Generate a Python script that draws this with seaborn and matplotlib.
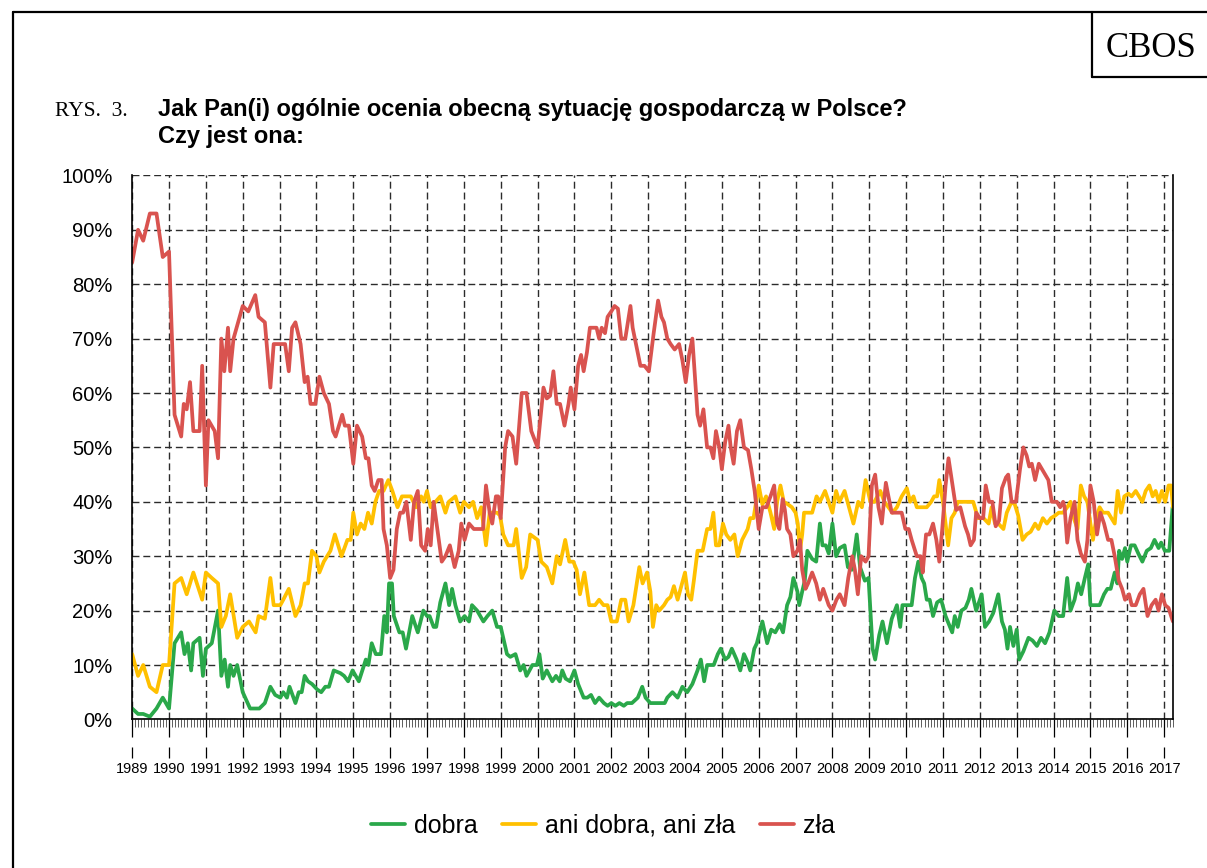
import numpy as np
import pandas as pd
import matplotlib
matplotlib.use('Agg')
import matplotlib.pyplot as plt
from matplotlib.lines import Line2D
from matplotlib.ticker import NullLocator
import seaborn as sns

# dobra - odczyt z wykresu (rok jako ułamek, odsetek)
dobra_rok = [
    1989.00, 1989.16, 1989.30, 1989.48, 1989.66, 1989.83, 1990.00, 1990.15, 1990.33, 1990.42,
    1990.51, 1990.60, 1990.66, 1990.83, 1990.92, 1991.00, 1991.16, 1991.33, 1991.42, 1991.51,
    1991.60, 1991.66, 1991.75, 1991.85, 1992.00, 1992.20, 1992.45, 1992.60, 1992.75, 1992.88,
    1993.02, 1993.10, 1993.20, 1993.27, 1993.43, 1993.52, 1993.60, 1993.68, 1993.77, 1993.88,
    1994.02, 1994.13, 1994.24, 1994.34, 1994.47, 1994.65, 1994.75, 1994.86, 1994.98, 1995.15,
    1995.34, 1995.41, 1995.50, 1995.61, 1995.75, 1995.84, 1995.91, 1995.97, 1996.05, 1996.10,
    1996.25, 1996.34, 1996.43, 1996.60, 1996.75, 1996.90, 1997.00, 1997.07, 1997.18, 1997.25,
    1997.36, 1997.50, 1997.60, 1997.68, 1997.77, 1997.90, 1998.02, 1998.14, 1998.22, 1998.36,
    1998.53, 1998.64, 1998.77, 1998.90, 1999.00, 1999.17, 1999.26, 1999.40, 1999.53, 1999.62,
    1999.70, 1999.86, 1999.98, 2000.05, 2000.14, 2000.25, 2000.40, 2000.50, 2000.60, 2000.67,
    2000.76, 2000.88, 2001.00, 2001.10, 2001.25, 2001.35, 2001.45, 2001.56, 2001.67, 2001.80,
    2001.90, 2002.00, 2002.11, 2002.22, 2002.34, 2002.43, 2002.56, 2002.72, 2002.84, 2002.93,
    2003.06, 2003.24, 2003.45, 2003.52, 2003.66, 2003.80, 2003.93, 2004.06, 2004.20, 2004.34,
    2004.43, 2004.52, 2004.60, 2004.78, 2004.89, 2004.97, 2005.09, 2005.18, 2005.27, 2005.40,
    2005.50, 2005.60, 2005.70, 2005.77, 2005.88, 2005.95, 2006.10, 2006.23, 2006.34, 2006.45,
    2006.57, 2006.66, 2006.77, 2006.86, 2006.94, 2007.05, 2007.10, 2007.18, 2007.25, 2007.32,
    2007.45, 2007.56, 2007.66, 2007.73, 2007.82, 2007.90, 2008.00, 2008.10, 2008.20, 2008.33,
    2008.42, 2008.53, 2008.66, 2008.75, 2008.88, 2008.98, 2009.09, 2009.16, 2009.27, 2009.36,
    2009.48, 2009.61, 2009.75, 2009.84, 2009.90, 2010.02, 2010.15, 2010.24, 2010.33, 2010.42,
    2010.49, 2010.56, 2010.64, 2010.73, 2010.84, 2010.95, 2011.07, 2011.16, 2011.25, 2011.32,
    2011.40, 2011.50, 2011.61, 2011.70, 2011.77, 2011.90, 2012.05, 2012.14, 2012.25, 2012.36,
    2012.50, 2012.60, 2012.68, 2012.75, 2012.82, 2012.91, 2013.00, 2013.07, 2013.18, 2013.32,
    2013.43, 2013.55, 2013.66, 2013.77, 2013.89, 2014.02, 2014.14, 2014.26, 2014.37, 2014.46,
    2014.57, 2014.66, 2014.75, 2014.85, 2014.94, 2015.00, 2015.16, 2015.25, 2015.37, 2015.46,
    2015.55, 2015.66, 2015.73, 2015.78, 2015.86, 2015.94, 2016.00, 2016.10, 2016.20, 2016.30,
    2016.41, 2016.53, 2016.64, 2016.74, 2016.85, 2016.92, 2017.02, 2017.14, 2017.23,
]
dobra_val = [
    2, 1, 1, 0.5, 2, 4, 2, 14, 16, 12,
    14, 9, 14, 15, 8, 13, 14, 20, 8, 11,
    6, 10, 8, 10, 5, 2, 2, 3, 6, 4.5,
    4, 5, 4, 6, 3, 5, 5, 8, 7, 6.5,
    5.5, 5, 6, 6, 9, 8.5, 8, 7, 9, 7,
    11, 10, 14, 12, 12, 19, 16, 25, 25, 19,
    16, 16, 13, 19, 16, 20, 19, 19, 17, 17,
    21.5, 25, 21, 24, 21, 18, 19, 18, 21, 20,
    18, 19, 20, 17, 17, 12, 11.5, 12, 9, 10,
    8, 10, 10, 12, 7.5, 9, 7, 8, 7, 9,
    7.5, 7, 9, 6.5, 4, 4, 4.5, 3, 4, 3,
    2.5, 3, 2.5, 3, 2.5, 3, 3, 4, 6, 4,
    3, 3, 3, 4, 5, 4, 6, 5, 6.5, 9,
    11, 7, 10, 10, 12, 13, 11, 11.5, 13, 11,
    9, 12, 10.5, 9, 13, 14, 18, 14, 16.5, 16,
    17.5, 16, 21, 22.5, 26, 23.5, 21, 23.5, 25.5, 31,
    29.5, 29, 36, 32, 32, 30.5, 36, 30, 31.5, 32,
    28, 27.5, 34, 28, 25.5, 26, 13, 11, 15.5, 18,
    14, 18.5, 21, 17, 21, 21, 21, 26, 29, 26,
    25, 22, 22, 19, 21.5, 22, 19, 17.5, 16, 19,
    17, 20, 20.5, 22, 24, 20, 23, 17, 18, 19.5,
    23, 18, 16.5, 13, 17, 13.5, 16.5, 11, 12.5, 15,
    14.5, 13.5, 15, 14, 16, 20, 19, 19, 26, 20,
    22, 25, 23, 26, 28.5, 21, 21, 21, 23, 24,
    24, 27, 25, 31, 29.5, 31.5, 29, 32, 32, 30.5,
    29, 31, 31.5, 33, 31.5, 32.5, 31, 31, 39,
]

# ani dobra, ani zła
ani_rok = [
    1989.00, 1989.16, 1989.30, 1989.48, 1989.66, 1989.83, 1990.00, 1990.15, 1990.33, 1990.48,
    1990.66, 1990.90, 1991.00, 1991.16, 1991.33, 1991.42, 1991.54, 1991.66, 1991.85, 1992.00,
    1992.17, 1992.35, 1992.43, 1992.60, 1992.75, 1992.84, 1993.02, 1993.10, 1993.25, 1993.43,
    1993.57, 1993.68, 1993.77, 1993.88, 1994.00, 1994.08, 1994.20, 1994.38, 1994.50, 1994.68,
    1994.84, 1994.93, 1995.00, 1995.10, 1995.20, 1995.30, 1995.40, 1995.50, 1995.60, 1995.70,
    1995.82, 1995.95, 1996.06, 1996.20, 1996.32, 1996.44, 1996.56, 1996.70, 1996.84, 1996.91,
    1997.00, 1997.10, 1997.23, 1997.36, 1997.50, 1997.59, 1997.77, 1997.90, 1998.00, 1998.14,
    1998.25, 1998.36, 1998.47, 1998.60, 1998.70, 1998.81, 1998.90, 1998.98, 1999.07, 1999.20,
    1999.35, 1999.42, 1999.57, 1999.69, 1999.80, 2000.00, 2000.10, 2000.25, 2000.40, 2000.52,
    2000.61, 2000.75, 2000.86, 2000.97, 2001.06, 2001.15, 2001.27, 2001.40, 2001.56, 2001.67,
    2001.79, 2001.90, 2002.00, 2002.15, 2002.27, 2002.38, 2002.47, 2002.60, 2002.76, 2002.85,
    2002.97, 2003.06, 2003.13, 2003.22, 2003.30, 2003.43, 2003.52, 2003.61, 2003.70, 2003.80,
    2004.00, 2004.08, 2004.17, 2004.24, 2004.34, 2004.48, 2004.60, 2004.69, 2004.77, 2004.84,
    2004.93, 2005.03, 2005.12, 2005.23, 2005.34, 2005.43, 2005.55, 2005.70, 2005.77, 2005.86,
    2006.00, 2006.10, 2006.20, 2006.32, 2006.42, 2006.50, 2006.59, 2006.68, 2006.80, 2006.90,
    2007.00, 2007.06, 2007.12, 2007.18, 2007.23, 2007.36, 2007.45, 2007.57, 2007.66, 2007.80,
    2007.90, 2008.00, 2008.10, 2008.19, 2008.33, 2008.45, 2008.57, 2008.70, 2008.80, 2008.90,
    2009.03, 2009.14, 2009.30, 2009.41, 2009.52, 2009.63, 2009.75, 2009.88, 2010.02, 2010.11,
    2010.20, 2010.29, 2010.42, 2010.56, 2010.68, 2010.76, 2010.84, 2010.90, 2011.00, 2011.14,
    2011.23, 2011.32, 2011.40, 2011.54, 2011.68, 2011.82, 2011.95, 2012.10, 2012.24, 2012.32,
    2012.41, 2012.50, 2012.64, 2012.73, 2012.86, 2012.95, 2013.04, 2013.16, 2013.27, 2013.38,
    2013.50, 2013.59, 2013.71, 2013.82, 2013.93, 2014.05, 2014.14, 2014.26, 2014.37, 2014.46,
    2014.55, 2014.65, 2014.74, 2014.83, 2014.92, 2015.00, 2015.07, 2015.16, 2015.25, 2015.34,
    2015.48, 2015.57, 2015.66, 2015.74, 2015.83, 2015.92, 2016.03, 2016.12, 2016.23, 2016.32,
    2016.41, 2016.50, 2016.60, 2016.69, 2016.77, 2016.86, 2016.94, 2017.03, 2017.12, 2017.19,
    2017.24,
]
ani_val = [
    12, 8, 10, 6, 5, 10, 10, 25, 26, 23,
    27, 22, 27, 26, 25, 17, 19, 23, 15, 17,
    18, 16, 19, 18.5, 26, 21, 21, 22, 24, 19,
    21, 25, 25, 31, 30, 27, 29, 31, 34, 30,
    33, 33, 38, 34, 36, 35, 38, 36, 40, 42,
    42, 44, 42, 39, 41, 41, 41, 39, 41, 40,
    42, 39, 40, 41, 38, 40, 41, 38, 40, 39,
    40, 37, 39, 32, 38, 38, 38, 37.5, 34, 32,
    32, 35, 26, 28, 34, 33, 29, 28, 25, 30,
    28.5, 33, 29, 29, 27.5, 23, 27, 21, 21, 22,
    21, 21, 18, 18, 22, 22, 18, 21, 28, 25,
    27, 23.5, 17, 21, 20, 21, 22, 22.5, 24.5, 22,
    27, 23, 22, 25.5, 31, 31, 35, 35, 38, 32,
    32, 36, 34, 33, 34, 30, 33, 35, 37, 37,
    43, 39.5, 41, 38, 35, 40, 43, 40, 39.5, 39,
    38, 36, 31, 34, 38, 38, 38, 41, 40, 42,
    40, 38, 42, 40, 42, 39, 36, 40, 39, 44,
    40, 40, 42, 40, 39, 38, 39, 41, 42.5, 40,
    41, 39, 39, 39, 40, 41, 41, 44, 40, 32,
    37, 38, 40, 40, 40, 40, 37, 37, 36, 39,
    36, 36, 35, 38, 40, 39.5, 37.5, 33, 34, 34.5,
    36, 35, 37, 36, 37, 37.5, 38, 38, 39, 40,
    37, 35, 43, 41, 40, 36, 33, 37, 39, 38,
    38, 37, 36, 42, 38, 41, 41.5, 41, 42, 41,
    40, 42, 43, 41, 42, 40, 42, 40, 43, 43,
    39,
]

# zła
zla_rok = [
    1989.00, 1989.16, 1989.30, 1989.48, 1989.66, 1989.83, 1990.00, 1990.15, 1990.33, 1990.40,
    1990.48, 1990.57, 1990.66, 1990.83, 1990.90, 1991.00, 1991.07, 1991.24, 1991.33, 1991.42,
    1991.50, 1991.60, 1991.66, 1991.75, 1992.00, 1992.15, 1992.34, 1992.43, 1992.60, 1992.75,
    1992.84, 1993.15, 1993.25, 1993.34, 1993.43, 1993.57, 1993.68, 1993.76, 1993.84, 1993.97,
    1994.08, 1994.20, 1994.34, 1994.45, 1994.52, 1994.70, 1994.77, 1994.88, 1995.00, 1995.10,
    1995.24, 1995.34, 1995.41, 1995.50, 1995.58, 1995.68, 1995.77, 1995.82, 1995.91, 1996.00,
    1996.09, 1996.18, 1996.27, 1996.35, 1996.44, 1996.56, 1996.65, 1996.75, 1996.84, 1996.95,
    1997.02, 1997.10, 1997.18, 1997.32, 1997.40, 1997.50, 1997.62, 1997.75, 1997.86, 1997.93,
    1998.02, 1998.14, 1998.27, 1998.40, 1998.52, 1998.60, 1998.70, 1998.77, 1998.87, 1998.93,
    1999.00, 1999.12, 1999.20, 1999.32, 1999.42, 1999.57, 1999.70, 1999.83, 2000.00, 2000.16,
    2000.25, 2000.34, 2000.43, 2000.52, 2000.61, 2000.73, 2000.84, 2000.90, 2001.00, 2001.10,
    2001.18, 2001.25, 2001.34, 2001.42, 2001.52, 2001.60, 2001.67, 2001.74, 2001.83, 2001.90,
    2002.00, 2002.09, 2002.18, 2002.27, 2002.38, 2002.52, 2002.58, 2002.70, 2002.79, 2002.90,
    2003.02, 2003.15, 2003.27, 2003.36, 2003.43, 2003.52, 2003.61, 2003.72, 2003.84, 2003.93,
    2004.02, 2004.11, 2004.20, 2004.26, 2004.34, 2004.41, 2004.50, 2004.60, 2004.69, 2004.77,
    2004.84, 2004.93, 2005.00, 2005.09, 2005.18, 2005.24, 2005.32, 2005.41, 2005.50, 2005.60,
    2005.71, 2005.80, 2005.89, 2006.00, 2006.10, 2006.21, 2006.32, 2006.42, 2006.50, 2006.56,
    2006.65, 2006.71, 2006.77, 2006.86, 2006.94, 2007.05, 2007.12, 2007.18, 2007.27, 2007.34,
    2007.45, 2007.56, 2007.66, 2007.75, 2007.90, 2008.00, 2008.11, 2008.20, 2008.33, 2008.43,
    2008.54, 2008.61, 2008.69, 2008.78, 2008.90, 2008.98, 2009.07, 2009.16, 2009.25, 2009.34,
    2009.45, 2009.52, 2009.61, 2009.70, 2009.80, 2009.88, 2009.98, 2010.07, 2010.15, 2010.29,
    2010.39, 2010.45, 2010.54, 2010.63, 2010.73, 2010.82, 2010.90, 2010.98, 2011.07, 2011.15,
    2011.25, 2011.36, 2011.47, 2011.60, 2011.68, 2011.75, 2011.84, 2011.90, 2012.00, 2012.09,
    2012.16, 2012.25, 2012.34, 2012.43, 2012.52, 2012.60, 2012.71, 2012.77, 2012.86, 2012.98,
    2013.09, 2013.18, 2013.27, 2013.34, 2013.41, 2013.50, 2013.60, 2013.73, 2013.86, 2013.95,
    2014.09, 2014.18, 2014.26, 2014.30, 2014.37, 2014.46, 2014.57, 2014.65, 2014.74, 2014.85,
    2014.92, 2015.00, 2015.09, 2015.18, 2015.27, 2015.37, 2015.48, 2015.57, 2015.66, 2015.77,
    2015.86, 2015.94, 2016.05, 2016.12, 2016.23, 2016.34, 2016.44, 2016.55, 2016.66, 2016.77,
    2016.85, 2016.94, 2017.03, 2017.12, 2017.19, 2017.24,
]
zla_val = [
    84, 90, 88, 93, 93, 85, 86, 56, 52, 58,
    57, 62, 53, 53, 65, 43, 55, 53, 48, 70,
    64, 72, 64, 70, 76, 75, 78, 74, 73, 61,
    69, 69, 64, 72, 73, 69, 62, 63, 58, 58,
    63, 60, 58, 53, 52, 56, 54, 54, 47, 54,
    52, 48, 48, 43, 42, 44, 44, 35, 32, 26,
    27.5, 35, 38, 38, 40, 33, 40, 42, 32, 31,
    35, 32, 40, 33, 29, 30, 32, 28, 31, 36,
    33, 36, 35, 35, 35, 43, 38, 36, 41, 41,
    37, 50, 53, 52, 47, 60, 60, 53, 50, 61,
    59, 59.5, 64, 58, 58, 54, 58, 61, 57, 65,
    67, 64, 67.5, 72, 72, 72, 70, 72, 71, 74,
    75, 76, 75.5, 70, 70, 76, 72, 68, 65, 65,
    64, 71, 77, 74, 73, 70, 69, 68, 69, 66,
    62, 67, 70, 64, 56, 54, 57, 50, 50, 48,
    53, 50, 46, 51, 54, 50, 47, 53, 55, 50,
    49.5, 46, 42, 35, 39, 39, 41, 43, 36, 35,
    40.5, 38.5, 35, 34, 30, 31, 33, 27.5, 24, 25,
    27, 25, 22, 24, 21, 20, 22, 23, 21, 26,
    30, 27.5, 23, 30, 29, 30, 43, 45, 39, 36,
    43.5, 41, 38, 38, 38, 38, 35, 35, 33, 30,
    30, 27, 34, 34, 36, 33, 29, 35, 43, 48,
    43.5, 38.5, 39, 35.5, 34, 32, 33, 38, 37, 37,
    43, 40, 40, 35.5, 36.5, 42.5, 44.5, 45, 40, 40,
    46, 50, 48.5, 46.5, 47, 44, 47, 45.5, 44, 40,
    40, 39, 40, 39, 32.5, 37, 40, 33, 30.5, 29,
    33, 43, 40, 34, 38, 36, 33, 33, 30, 25.5,
    24, 22, 23, 21, 21, 23, 24, 19, 21, 22,
    20, 23, 21, 20.5, 19, 18,
]

kategorie = ['dobra', 'ani dobra, ani zła', 'zła']
kolory = ['#2aa84a', '#ffc000', '#d9534f']
lata_osi = list(range(1989, 2018))
procenty = list(range(0, 101, 10))


def build_frame():
    parts = []
    for name, lata, wartosci in zip(kategorie, [dobra_rok, ani_rok, zla_rok],
                                    [dobra_val, ani_val, zla_val]):
        parts.append(pd.DataFrame({'rok': lata, 'odsetek': wartosci, 'ocena': name}))
    return pd.concat(parts, ignore_index=True)


def main():
    sns.set_style('white')
    plt.rcParams['font.family'] = ['Liberation Sans', 'DejaVu Sans']
    plt.rcParams['text.color'] = 'black'
    plt.rcParams['xtick.color'] = 'black'
    plt.rcParams['ytick.color'] = 'black'
    plt.rcParams['axes.labelcolor'] = 'black'

    df = build_frame()

    fig = plt.figure(figsize=(12.07, 8.68), dpi=100)
    ax = fig.add_axes([0.1095, 0.1712, 0.8626, 0.6267])

    sns.lineplot(data=df, x='rok', y='odsetek', hue='ocena', hue_order=kategorie,
                 palette=kolory, linewidth=2.7, estimator=None, sort=False, ax=ax)

    ax.set_xlim(1989, 2017.25)
    ax.set_ylim(0, 100)
    ax.set_xlabel('')
    ax.set_ylabel('')

    # siatka przerywana
    ax.set_axisbelow(True)
    ax.grid(True, which='major', color='#2b2b2b', linestyle=(0, (5, 2.8)), linewidth=1.0)

    ax.set_yticks(procenty)
    ax.set_yticklabels([f'{p}%' for p in procenty], fontsize=14.5, color='black')
    ax.tick_params(axis='y', length=0, pad=14)

    ax.set_xticks(lata_osi)
    ax.set_xticks(1989 + np.arange(0, 28 * 12 + 4) / 12, minor=True)
    ax.tick_params(axis='x', which='major', length=13, width=0.9, direction='out',
                   labelbottom=False, bottom=True, color='black')
    ax.tick_params(axis='x', which='minor', length=6, width=0.6, direction='out',
                   bottom=True, color='#444444')

    for side in ['left', 'bottom', 'right']:
        ax.spines[side].set_visible(True)
        ax.spines[side].set_color('black')
        ax.spines[side].set_linewidth(1.2)
    ax.spines['top'].set_visible(False)

    # druga oś z etykietami lat
    sec = ax.secondary_xaxis(-0.0502)
    sec.set_xticks(lata_osi)
    sec.set_xticklabels([str(r) for r in lata_osi], color='black')
    sec.xaxis.set_minor_locator(NullLocator())
    sec.spines['bottom'].set_visible(False)
    sec.tick_params(axis='x', length=8.2, width=0.9, direction='out', labelsize=10.5, pad=3,
                    color='black')

    sns.move_legend(ax, 'center', bbox_to_anchor=(0.4996, 0.0484),
                    bbox_transform=fig.transFigure, ncol=3, frameon=False, title=None,
                    fontsize=18, handlelength=1.35, handletextpad=0.35, columnspacing=1.0)
    for t in ax.get_legend().get_texts():
        t.set_color('black')

    # naglowek
    fig.text(0.0456, 1 - 116 / 868, 'RYS.  3.', family=['Liberation Serif', 'DejaVu Serif'],
             fontsize=15.5, va='baseline', ha='left', color='black')
    fig.text(0.1312, 1 - 116 / 868,
             'Jak Pan(i) ogólnie ocenia obecną sytuację gospodarczą w Polsce?',
             fontsize=17, fontweight='bold', va='baseline', ha='left', color='black')
    fig.text(0.1312, 1 - 143 / 868, 'Czy jest ona:',
             fontsize=17, fontweight='bold', va='baseline', ha='left', color='black')
    fig.text(1151 / 1207, 1 - 57 / 868, 'CBOS', family=['Liberation Serif', 'DejaVu Serif'],
             fontsize=25, va='baseline', ha='center', color='black')

    # ramka strony i pole CBOS
    ramka = dict(color='black', linewidth=1.6, transform=fig.transFigure)
    fig.add_artist(Line2D([13 / 1207, 13 / 1207], [0, 1 - 12 / 868], **ramka))
    fig.add_artist(Line2D([13 / 1207, 1], [1 - 12 / 868, 1 - 12 / 868], **ramka))
    fig.add_artist(Line2D([1092 / 1207, 1092 / 1207], [1 - 12 / 868, 1 - 77 / 868], **ramka))
    fig.add_artist(Line2D([1092 / 1207, 1], [1 - 77 / 868, 1 - 77 / 868], **ramka))

    fig.savefig('out.png', dpi=100, facecolor='white')
    plt.close(fig)


if __name__ == "__main__":
    main()
